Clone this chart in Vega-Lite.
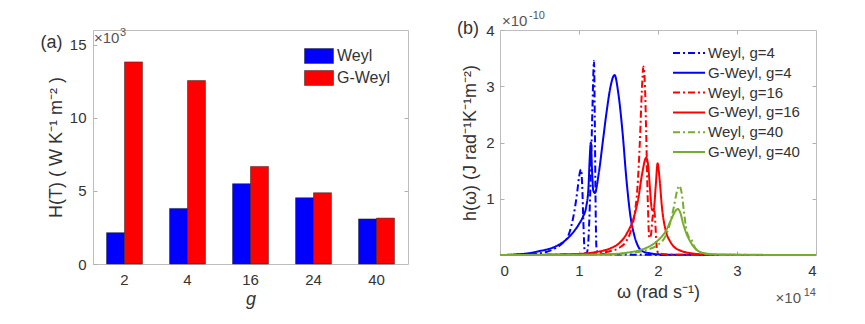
{
  "$schema": "https://vega.github.io/schema/vega-lite/v6.json",
  "background": "white",
  "padding": {"left": 40, "top": 9, "right": 0, "bottom": 0},
  "spacing": 92,
  "bounds": "flush",
  "resolve": {"scale": {"color": "independent", "strokeDash": "independent", "x": "independent", "y": "independent"}, "legend": {"color": "independent", "strokeDash": "independent"}},
  "config": {
    "font": "Liberation Sans",
    "view": {"stroke": "#bdbdbd", "strokeWidth": 1},
    "axis": {
      "grid": false,
      "domain": false,
      "tickColor": "#b0b0b0",
      "tickSize": -4,
      "labelColor": "#333333",
      "titleColor": "#333333",
      "labelFontSize": 15,
      "titleFontSize": 18,
      "titleFontWeight": "normal"
    },
    "legend": {"labelColor": "#333333"}
  },
  "datasets": {
    "bars": [
      {"g": "2", "type": "Weyl", "H": 2.14}, {"g": "2", "type": "G-Weyl", "H": 13.82},
      {"g": "4", "type": "Weyl", "H": 3.80}, {"g": "4", "type": "G-Weyl", "H": 12.54},
      {"g": "16", "type": "Weyl", "H": 5.49}, {"g": "16", "type": "G-Weyl", "H": 6.67},
      {"g": "24", "type": "Weyl", "H": 4.53}, {"g": "24", "type": "G-Weyl", "H": 4.87},
      {"g": "40", "type": "Weyl", "H": 3.08}, {"g": "40", "type": "G-Weyl", "H": 3.14}
    ],
    "curves": [
      {"s": "Weyl, g=4", "w": 0, "h": 0}, {"s": "Weyl, g=4", "w": 0.2, "h": 0.004}, {"s": "Weyl, g=4", "w": 0.4, "h": 0.015}, {"s": "Weyl, g=4", "w": 0.5, "h": 0.03}, {"s": "Weyl, g=4", "w": 0.6, "h": 0.06}, {"s": "Weyl, g=4", "w": 0.7, "h": 0.12}, {"s": "Weyl, g=4", "w": 0.8, "h": 0.22}, {"s": "Weyl, g=4", "w": 0.85, "h": 0.3}, {"s": "Weyl, g=4", "w": 0.9, "h": 0.5}, {"s": "Weyl, g=4", "w": 0.95, "h": 0.85}, {"s": "Weyl, g=4", "w": 0.98, "h": 1.15}, {"s": "Weyl, g=4", "w": 1.0, "h": 1.38}, {"s": "Weyl, g=4", "w": 1.025, "h": 1.52}, {"s": "Weyl, g=4", "w": 1.04, "h": 1.25}, {"s": "Weyl, g=4", "w": 1.055, "h": 0.6}, {"s": "Weyl, g=4", "w": 1.07, "h": 0.1}, {"s": "Weyl, g=4", "w": 1.09, "h": 0.02}, {"s": "Weyl, g=4", "w": 1.11, "h": 0.1}, {"s": "Weyl, g=4", "w": 1.13, "h": 0.6}, {"s": "Weyl, g=4", "w": 1.15, "h": 1.5}, {"s": "Weyl, g=4", "w": 1.17, "h": 2.6}, {"s": "Weyl, g=4", "w": 1.19, "h": 3.45}, {"s": "Weyl, g=4", "w": 1.2, "h": 2.4}, {"s": "Weyl, g=4", "w": 1.21, "h": 0.9}, {"s": "Weyl, g=4", "w": 1.22, "h": 0.15}, {"s": "Weyl, g=4", "w": 1.24, "h": 0.03}, {"s": "Weyl, g=4", "w": 1.4, "h": 0.01}, {"s": "Weyl, g=4", "w": 1.8, "h": 0.005}, {"s": "Weyl, g=4", "w": 2.2, "h": 0}, {"s": "Weyl, g=4", "w": 4, "h": 0},
      {"s": "G-Weyl, g=4", "w": 0, "h": 0}, {"s": "G-Weyl, g=4", "w": 0.2, "h": 0.01}, {"s": "G-Weyl, g=4", "w": 0.4, "h": 0.04}, {"s": "G-Weyl, g=4", "w": 0.5, "h": 0.07}, {"s": "G-Weyl, g=4", "w": 0.6, "h": 0.1}, {"s": "G-Weyl, g=4", "w": 0.7, "h": 0.15}, {"s": "G-Weyl, g=4", "w": 0.8, "h": 0.23}, {"s": "G-Weyl, g=4", "w": 0.9, "h": 0.36}, {"s": "G-Weyl, g=4", "w": 1.0, "h": 0.55}, {"s": "G-Weyl, g=4", "w": 1.05, "h": 0.68}, {"s": "G-Weyl, g=4", "w": 1.09, "h": 0.85}, {"s": "G-Weyl, g=4", "w": 1.12, "h": 1.2}, {"s": "G-Weyl, g=4", "w": 1.135, "h": 1.7}, {"s": "G-Weyl, g=4", "w": 1.15, "h": 2.0}, {"s": "G-Weyl, g=4", "w": 1.165, "h": 1.5}, {"s": "G-Weyl, g=4", "w": 1.18, "h": 1.15}, {"s": "G-Weyl, g=4", "w": 1.2, "h": 1.1}, {"s": "G-Weyl, g=4", "w": 1.25, "h": 1.45}, {"s": "G-Weyl, g=4", "w": 1.3, "h": 2.0}, {"s": "G-Weyl, g=4", "w": 1.35, "h": 2.55}, {"s": "G-Weyl, g=4", "w": 1.4, "h": 3.0}, {"s": "G-Weyl, g=4", "w": 1.45, "h": 3.2}, {"s": "G-Weyl, g=4", "w": 1.5, "h": 2.85}, {"s": "G-Weyl, g=4", "w": 1.55, "h": 2.2}, {"s": "G-Weyl, g=4", "w": 1.6, "h": 1.35}, {"s": "G-Weyl, g=4", "w": 1.65, "h": 0.7}, {"s": "G-Weyl, g=4", "w": 1.7, "h": 0.35}, {"s": "G-Weyl, g=4", "w": 1.75, "h": 0.15}, {"s": "G-Weyl, g=4", "w": 1.8, "h": 0.07}, {"s": "G-Weyl, g=4", "w": 1.9, "h": 0.03}, {"s": "G-Weyl, g=4", "w": 2.0, "h": 0.012}, {"s": "G-Weyl, g=4", "w": 2.3, "h": 0.003}, {"s": "G-Weyl, g=4", "w": 4, "h": 0},
      {"s": "Weyl, g=16", "w": 0, "h": 0}, {"s": "Weyl, g=16", "w": 0.5, "h": 0.003}, {"s": "Weyl, g=16", "w": 1.0, "h": 0.015}, {"s": "Weyl, g=16", "w": 1.2, "h": 0.03}, {"s": "Weyl, g=16", "w": 1.4, "h": 0.07}, {"s": "Weyl, g=16", "w": 1.5, "h": 0.12}, {"s": "Weyl, g=16", "w": 1.6, "h": 0.25}, {"s": "Weyl, g=16", "w": 1.65, "h": 0.4}, {"s": "Weyl, g=16", "w": 1.7, "h": 0.7}, {"s": "Weyl, g=16", "w": 1.74, "h": 1.2}, {"s": "Weyl, g=16", "w": 1.77, "h": 2.0}, {"s": "Weyl, g=16", "w": 1.795, "h": 2.9}, {"s": "Weyl, g=16", "w": 1.815, "h": 3.35}, {"s": "Weyl, g=16", "w": 1.835, "h": 3.0}, {"s": "Weyl, g=16", "w": 1.85, "h": 2.2}, {"s": "Weyl, g=16", "w": 1.87, "h": 1.0}, {"s": "Weyl, g=16", "w": 1.89, "h": 0.3}, {"s": "Weyl, g=16", "w": 1.91, "h": 0.35}, {"s": "Weyl, g=16", "w": 1.93, "h": 0.65}, {"s": "Weyl, g=16", "w": 1.95, "h": 0.82}, {"s": "Weyl, g=16", "w": 1.965, "h": 0.6}, {"s": "Weyl, g=16", "w": 1.98, "h": 0.2}, {"s": "Weyl, g=16", "w": 2.0, "h": 0.04}, {"s": "Weyl, g=16", "w": 2.1, "h": 0.01}, {"s": "Weyl, g=16", "w": 2.4, "h": 0.002}, {"s": "Weyl, g=16", "w": 4, "h": 0},
      {"s": "G-Weyl, g=16", "w": 0, "h": 0}, {"s": "G-Weyl, g=16", "w": 0.5, "h": 0.005}, {"s": "G-Weyl, g=16", "w": 1.0, "h": 0.02}, {"s": "G-Weyl, g=16", "w": 1.2, "h": 0.05}, {"s": "G-Weyl, g=16", "w": 1.4, "h": 0.12}, {"s": "G-Weyl, g=16", "w": 1.5, "h": 0.2}, {"s": "G-Weyl, g=16", "w": 1.6, "h": 0.37}, {"s": "G-Weyl, g=16", "w": 1.7, "h": 0.7}, {"s": "G-Weyl, g=16", "w": 1.75, "h": 1.0}, {"s": "G-Weyl, g=16", "w": 1.8, "h": 1.45}, {"s": "G-Weyl, g=16", "w": 1.85, "h": 1.73}, {"s": "G-Weyl, g=16", "w": 1.875, "h": 1.6}, {"s": "G-Weyl, g=16", "w": 1.9, "h": 1.15}, {"s": "G-Weyl, g=16", "w": 1.925, "h": 0.8}, {"s": "G-Weyl, g=16", "w": 1.945, "h": 0.8}, {"s": "G-Weyl, g=16", "w": 1.97, "h": 1.2}, {"s": "G-Weyl, g=16", "w": 1.995, "h": 1.63}, {"s": "G-Weyl, g=16", "w": 2.02, "h": 1.35}, {"s": "G-Weyl, g=16", "w": 2.05, "h": 0.85}, {"s": "G-Weyl, g=16", "w": 2.1, "h": 0.42}, {"s": "G-Weyl, g=16", "w": 2.15, "h": 0.25}, {"s": "G-Weyl, g=16", "w": 2.2, "h": 0.15}, {"s": "G-Weyl, g=16", "w": 2.3, "h": 0.07}, {"s": "G-Weyl, g=16", "w": 2.4, "h": 0.035}, {"s": "G-Weyl, g=16", "w": 2.6, "h": 0.01}, {"s": "G-Weyl, g=16", "w": 2.8, "h": 0.003}, {"s": "G-Weyl, g=16", "w": 4, "h": 0},
      {"s": "Weyl, g=40", "w": 0, "h": 0}, {"s": "Weyl, g=40", "w": 1.0, "h": 0.002}, {"s": "Weyl, g=40", "w": 1.4, "h": 0.01}, {"s": "Weyl, g=40", "w": 1.6, "h": 0.03}, {"s": "Weyl, g=40", "w": 1.8, "h": 0.07}, {"s": "Weyl, g=40", "w": 1.9, "h": 0.11}, {"s": "Weyl, g=40", "w": 2.0, "h": 0.18}, {"s": "Weyl, g=40", "w": 2.1, "h": 0.35}, {"s": "Weyl, g=40", "w": 2.15, "h": 0.55}, {"s": "Weyl, g=40", "w": 2.2, "h": 0.85}, {"s": "Weyl, g=40", "w": 2.24, "h": 1.13}, {"s": "Weyl, g=40", "w": 2.27, "h": 1.23}, {"s": "Weyl, g=40", "w": 2.3, "h": 1.1}, {"s": "Weyl, g=40", "w": 2.33, "h": 0.75}, {"s": "Weyl, g=40", "w": 2.36, "h": 0.45}, {"s": "Weyl, g=40", "w": 2.39, "h": 0.32}, {"s": "Weyl, g=40", "w": 2.42, "h": 0.28}, {"s": "Weyl, g=40", "w": 2.46, "h": 0.15}, {"s": "Weyl, g=40", "w": 2.5, "h": 0.07}, {"s": "Weyl, g=40", "w": 2.6, "h": 0.02}, {"s": "Weyl, g=40", "w": 2.8, "h": 0.004}, {"s": "Weyl, g=40", "w": 4, "h": 0},
      {"s": "G-Weyl, g=40", "w": 0, "h": 0}, {"s": "G-Weyl, g=40", "w": 1.0, "h": 0.003}, {"s": "G-Weyl, g=40", "w": 1.4, "h": 0.015}, {"s": "G-Weyl, g=40", "w": 1.6, "h": 0.04}, {"s": "G-Weyl, g=40", "w": 1.8, "h": 0.1}, {"s": "G-Weyl, g=40", "w": 1.9, "h": 0.16}, {"s": "G-Weyl, g=40", "w": 2.0, "h": 0.26}, {"s": "G-Weyl, g=40", "w": 2.1, "h": 0.43}, {"s": "G-Weyl, g=40", "w": 2.17, "h": 0.64}, {"s": "G-Weyl, g=40", "w": 2.22, "h": 0.78}, {"s": "G-Weyl, g=40", "w": 2.25, "h": 0.82}, {"s": "G-Weyl, g=40", "w": 2.28, "h": 0.76}, {"s": "G-Weyl, g=40", "w": 2.32, "h": 0.55}, {"s": "G-Weyl, g=40", "w": 2.36, "h": 0.38}, {"s": "G-Weyl, g=40", "w": 2.4, "h": 0.26}, {"s": "G-Weyl, g=40", "w": 2.45, "h": 0.15}, {"s": "G-Weyl, g=40", "w": 2.5, "h": 0.08}, {"s": "G-Weyl, g=40", "w": 2.6, "h": 0.03}, {"s": "G-Weyl, g=40", "w": 2.8, "h": 0.006}, {"s": "G-Weyl, g=40", "w": 4, "h": 0}
    ]
  },
  "hconcat": [
    {
      "width": 315,
      "height": 234,
      "resolve": {"axis": {"x": "independent", "y": "independent"}},
      "layer": [
        {
          "data": {"name": "bars"},
          "mark": {"type": "bar", "stroke": "#222222", "strokeWidth": 0.5},
          "encoding": {
            "x": {
              "field": "g", "type": "ordinal", "sort": ["2", "4", "16", "24", "40"],
              "scale": {"paddingInner": 0.43, "paddingOuter": 0.215},
              "axis": {"title": "g", "labelAngle": 0, "titleFontStyle": "italic", "labelPadding": 12, "titlePadding": 3}
            },
            "xOffset": {"field": "type", "sort": ["Weyl", "G-Weyl"]},
            "y": {
              "field": "H", "type": "quantitative", "scale": {"domain": [0, 15]},
              "axis": {"values": [0, 5, 10, 15], "format": "d", "title": "H(T) ( W K⁻¹ m⁻² )", "labelPadding": 11, "titlePadding": 4}
            },
            "color": {
              "field": "type", "type": "nominal",
              "scale": {"domain": ["Weyl", "G-Weyl"], "range": ["#0000ff", "#ff0000"]},
              "legend": {
                "title": null, "orient": "none", "legendX": 218, "legendY": 18,
                "symbolType": "M-2,-1.03H2V1.03H-2Z", "symbolSize": 210,
                "symbolStrokeColor": "#222222", "symbolStrokeWidth": 0.5,
                "labelFontSize": 16, "labelOffset": 10, "rowPadding": 4, "padding": 0
              }
            }
          }
        },
        {
          "data": {"values": [{}]},
          "mark": {"type": "text", "text": "×10", "fontSize": 15, "color": "#555555", "align": "left", "baseline": "alphabetic", "dx": -30.5, "dy": -2},
          "encoding": {
            "x": {"datum": "2", "axis": null},
            "y": {"datum": 15, "axis": {"orient": "right", "values": [5, 10], "labels": false, "title": null, "tickSize": -4}}
          }
        },
        {
          "data": {"values": [{}]},
          "mark": {"type": "text", "text": "3", "fontSize": 11, "color": "#555555", "align": "left", "baseline": "alphabetic", "dx": -4.5, "dy": -9},
          "encoding": {"x": {"datum": "2", "axis": null}, "y": {"datum": 15, "axis": null}}
        },
        {
          "data": {"values": [{}]},
          "mark": {"type": "text", "text": "(a)", "fontSize": 18, "color": "#333333", "align": "right", "baseline": "middle", "dx": -62, "dy": -1.5},
          "encoding": {"x": {"datum": "2", "axis": null}, "y": {"datum": 15, "axis": null}}
        }
      ]
    },
    {
      "width": 316,
      "height": 225,
      "resolve": {"axis": {"x": "independent", "y": "independent"}},
      "layer": [
        {
          "data": {"name": "curves"},
          "mark": {"type": "line", "strokeWidth": 2, "interpolate": "monotone"},
          "encoding": {
            "x": {
              "field": "w", "type": "quantitative", "scale": {"domain": [0, 4]},
              "axis": {"values": [0, 1, 2, 3, 4], "format": "d", "title": "ω (rad s⁻¹)", "labelPadding": 12, "titlePadding": 5}
            },
            "y": {
              "field": "h", "type": "quantitative", "scale": {"domain": [0, 4]},
              "axis": {"values": [1, 2, 3, 4], "format": "d", "title": "h(ω)  (J rad⁻¹K⁻¹m⁻²)", "labelPadding": 10, "titlePadding": 6}
            },
            "color": {
              "field": "s", "type": "nominal",
              "scale": {
                "domain": ["Weyl, g=4", "G-Weyl, g=4", "Weyl, g=16", "G-Weyl, g=16", "Weyl, g=40", "G-Weyl, g=40"],
                "range": ["#0000ff", "#0000ff", "#ff0000", "#ff0000", "#77ac30", "#77ac30"]
              },
              "legend": {
                "title": null, "orient": "none", "legendX": 180, "legendY": 14,
                "symbolType": "M-2,0H2", "symbolSize": 256, "symbolStrokeWidth": 2,
                "labelFontSize": 15, "labelOffset": 10, "rowPadding": 2.8, "padding": 0
              }
            },
            "strokeDash": {
              "field": "s", "type": "nominal",
              "scale": {
                "domain": ["Weyl, g=4", "G-Weyl, g=4", "Weyl, g=16", "G-Weyl, g=16", "Weyl, g=40", "G-Weyl, g=40"],
                "range": [[7, 3, 2, 3], [1, 0], [7, 3, 2, 3], [1, 0], [7, 3, 2, 3], [1, 0]]
              },
              "legend": {
                "title": null, "orient": "none", "legendX": 180, "legendY": 14,
                "symbolType": "M-2,0H2", "symbolSize": 256, "symbolStrokeWidth": 2,
                "labelFontSize": 15, "labelOffset": 10, "rowPadding": 2.8, "padding": 0
              }
            }
          }
        },
        {
          "data": {"values": [{}]},
          "mark": {"type": "text", "text": "×10", "fontSize": 15, "color": "#555555", "align": "left", "baseline": "alphabetic", "dx": 2, "dy": -4},
          "encoding": {
            "x": {"datum": 0, "axis": {"orient": "top", "values": [1, 2, 3], "labels": false, "title": null, "tickSize": -4}},
            "y": {"datum": 4, "axis": {"orient": "right", "values": [1, 2, 3], "labels": false, "title": null, "tickSize": -4}}
          }
        },
        {
          "data": {"values": [{}]},
          "mark": {"type": "text", "text": "-10", "fontSize": 11, "color": "#555555", "align": "left", "baseline": "alphabetic", "dx": 29, "dy": -11},
          "encoding": {"x": {"datum": 0, "axis": null}, "y": {"datum": 4, "axis": null}}
        },
        {
          "data": {"values": [{}]},
          "mark": {"type": "text", "text": "(b)", "fontSize": 18, "color": "#333333", "align": "right", "baseline": "middle", "dx": -21, "dy": -1.5},
          "encoding": {"x": {"datum": 0, "axis": null}, "y": {"datum": 4, "axis": null}}
        },
        {
          "data": {"values": [{}]},
          "mark": {"type": "text", "text": "×10", "fontSize": 15, "color": "#555555", "align": "right", "baseline": "alphabetic", "dx": -15, "dy": 47.5},
          "encoding": {"x": {"datum": 4, "axis": null}, "y": {"datum": 0, "axis": null}}
        },
        {
          "data": {"values": [{}]},
          "mark": {"type": "text", "text": "14", "fontSize": 11, "color": "#555555", "align": "right", "baseline": "alphabetic", "dy": 41},
          "encoding": {"x": {"datum": 4, "axis": null}, "y": {"datum": 0, "axis": null}}
        }
      ]
    }
  ]
}
